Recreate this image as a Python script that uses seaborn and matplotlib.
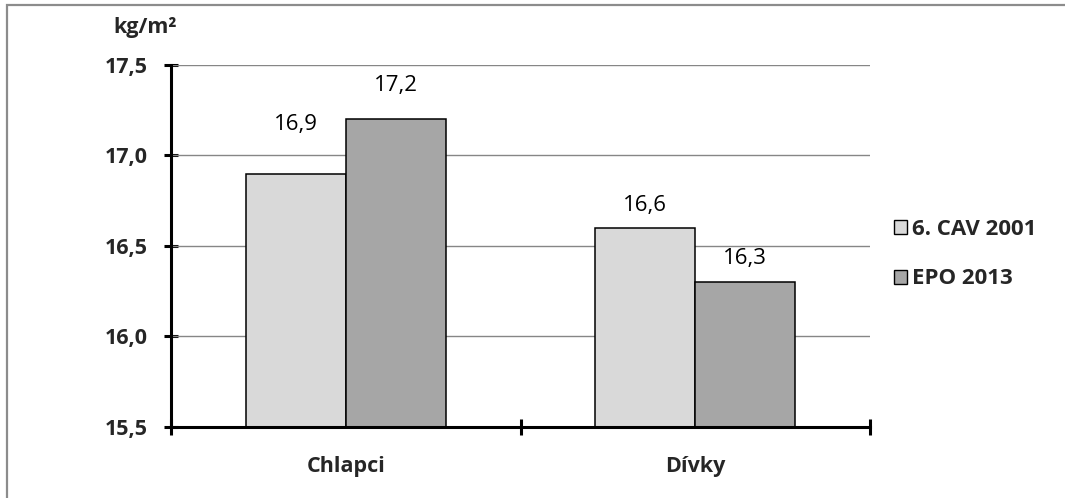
import matplotlib
matplotlib.use("Agg")
import matplotlib.pyplot as plt
import matplotlib.patches as mpatches
import seaborn as sns
import pandas as pd

# Data
categories = ["Chlapci", "Dívky"]
series = ["6. CAV 2001", "EPO 2013"]
cav_2001 = [16.9, 16.6]
epo_2013 = [17.2, 16.3]
y_ticks = [15.5, 16.0, 16.5, 17.0, 17.5]
y_tick_labels = ["15,5", "16,0", "16,5", "17,0", "17,5"]
unit_label = "kg/m²"

colors = ["#D9D9D9", "#A6A6A6"]

df = pd.DataFrame({
    "kategorie": categories * 2,
    "serie": [series[0]] * 2 + [series[1]] * 2,
    "hodnota": cav_2001 + epo_2013,
})

sns.set_theme(style="white")
plt.rcParams["font.family"] = ["Open Sans", "DejaVu Sans"]

FS = 15.5
FS_VAL = 16

fig = plt.figure(figsize=(10.65, 4.98), dpi=100)
ax = fig.add_axes([0.1606, 0.1426, 0.6563, 0.7269])

sns.barplot(data=df, x="kategorie", y="hodnota", hue="serie",
            order=categories, hue_order=series, palette=colors,
            width=0.571, edgecolor="black", linewidth=1.1,
            saturation=1, legend=False, ax=ax, zorder=3)

ax.set_xlim(-0.5, 1.5)
ax.set_ylim(y_ticks[0], y_ticks[-1])
ax.set_yticks(y_ticks)
ax.set_yticklabels(y_tick_labels)
ax.set_xticks([-0.5, 0.5, 1.5], minor=False)
ax.set_xticklabels([])
ax.set_xticks([0, 1], minor=True)
ax.set_xticklabels(categories, minor=True)
ax.set_xlabel("")
ax.set_ylabel("")

# Horizontal gridlines
for yv in y_ticks[1:]:
    ax.axhline(yv, color="#868686", linewidth=1.0, zorder=1)

for side in ["top", "right"]:
    ax.spines[side].set_visible(False)
for side in ["left", "bottom"]:
    ax.spines[side].set_color("black")
    ax.spines[side].set_linewidth(2.2)
    ax.spines[side].set_zorder(5)

ax.tick_params(axis="y", which="major", direction="inout", length=10, width=2.2,
               color="black", pad=12, labelsize=FS, left=True)
ax.tick_params(axis="x", which="major", direction="inout", length=12, width=2.2,
               color="black", bottom=True)
ax.tick_params(axis="x", which="minor", length=0, pad=21, labelsize=FS)
for lbl in ax.get_yticklabels() + ax.get_xticklabels(minor=True):
    lbl.set_fontweight("bold")

# Value labels above each bar
label_offsets = [[35, 16], [24.5, 17]]  # points above bar top, per series
for s_idx, container in enumerate(ax.containers):
    for c_idx, bar in enumerate(container):
        val = bar.get_height()
        ax.annotate(f"{val:.1f}".replace(".", ","),
                    xy=(bar.get_x() + bar.get_width() / 2, val),
                    xytext=(0, label_offsets[s_idx][c_idx]),
                    textcoords="offset points", ha="center", va="center",
                    fontsize=FS_VAL, color="black")

# Unit label above the axis
fig.text(145 / 1065, 1 - 27 / 498, unit_label, ha="center", va="center",
         fontsize=FS, fontweight="bold")

# Legend
handles = [mpatches.Patch(facecolor=c, edgecolor="black", linewidth=1.0, label=s)
           for c, s in zip(colors, series)]
leg = fig.legend(handles=handles, loc="center left",
                 bbox_to_anchor=(885 / 1065, 1 - 254 / 498),
                 frameon=False, fontsize=16, handlelength=0.6, handleheight=0.6,
                 handletextpad=0.2, labelspacing=1.3, borderaxespad=0)
for t in leg.get_texts():
    t.set_fontweight("bold")

# Outer frame
fig.patches.append(mpatches.Rectangle((7 / 1065, -0.05), 1.2, 1 - 5 / 498 + 0.05,
                                      transform=fig.transFigure, fill=False,
                                      edgecolor="#8C8C8C", linewidth=1.6))

fig.savefig("out.png", dpi=100)
